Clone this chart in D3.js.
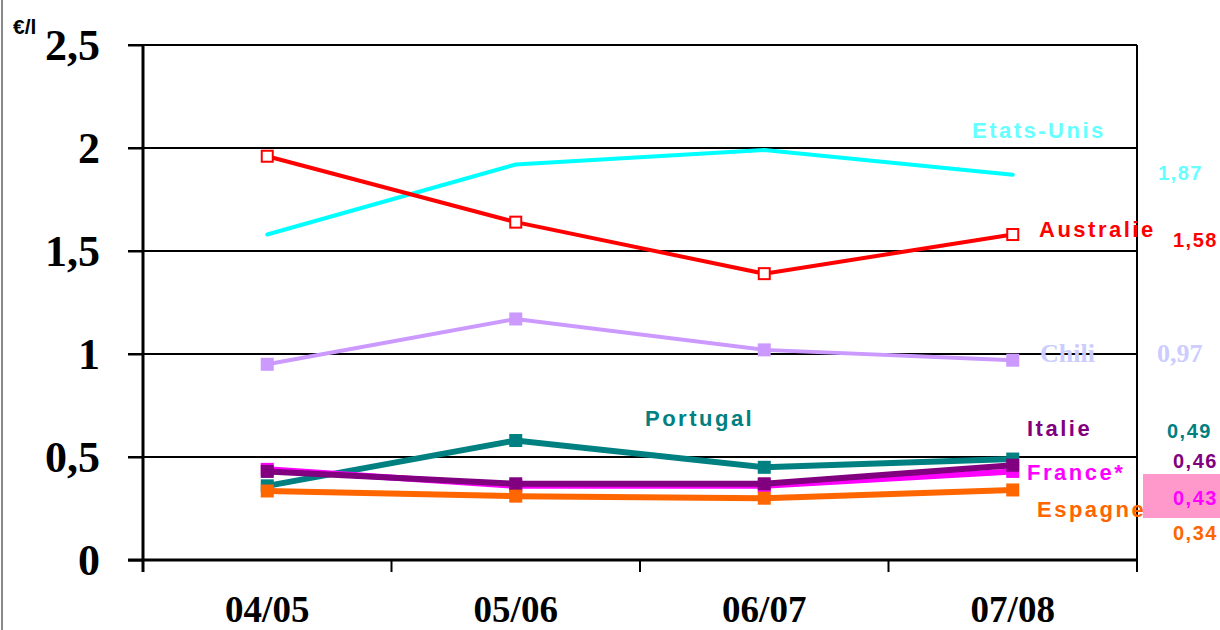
<!DOCTYPE html>
<html>
<head>
<meta charset="utf-8">
<script src="https://cdn.jsdelivr.net/npm/d3@7"></script>
<style>
	body { margin: 0; background: #fff; }
	svg { display: block; }
	.lbl { font-family: 'Liberation Sans', Arial, sans-serif; font-weight: bold; font-size: 22px; letter-spacing: 2.5px; }
	.num { font-family: 'Liberation Sans', Arial, sans-serif; font-weight: bold; font-size: 20px; letter-spacing: 1.5px; }
	.serif { font-family: 'Liberation Serif', 'Times New Roman', serif; font-weight: bold; font-size: 26px; letter-spacing: 0; }
</style>
</head>
<body>
<div id="chart"></div>
<script>
// data
const seasons = ['04/05', '05/06', '06/07', '07/08'];
const etatsUnis = [1.58, 1.92, 1.99, 1.87];
const australie = [1.96, 1.64, 1.39, 1.58];
const chili = [0.95, 1.17, 1.02, 0.97];
const portugal = [0.36, 0.58, 0.45, 0.49];
const france = [0.44, 0.36, 0.36, 0.43];
const italie = [0.43, 0.37, 0.37, 0.46];
const espagne = [0.335, 0.31, 0.30, 0.34];
const yTicks = [0, 0.5, 1, 1.5, 2, 2.5];

// dimension stuff
const width = 1220;
const height = 630;
const plotLeft = 143;
const plotRight = 1137;
const plotTop = 45;
const plotBottom = 560;

const fmt = v => String(v).replace('.', ',');

// series, in drawing order
const series = [
	{ name: 'Etats-Unis', values: etatsUnis, color: '#00FFFF', lw: 4, marker: null, text: '#66FFFF',
		lx: 972, ly: 138, nx: 1158, ny: 180 },
	{ name: 'Australie', values: australie, color: '#FF0000', lw: 4, marker: 'hollow', text: '#FF0000',
		lx: 1039, ly: 237, nx: 1173, ny: 247 },
	{ name: 'Chili', values: chili, color: '#CC99FF', lw: 4, marker: 'filled', text: '#CCCCFF', serif: true,
		lx: 1040, ly: 362, nx: 1157, ny: 362 },
	{ name: 'Portugal', values: portugal, color: '#008080', lw: 6, marker: 'filled', text: '#008080',
		lx: 645, ly: 426, nx: 1167, ny: 438 },
	{ name: 'France*', values: france, color: '#FF00FF', lw: 6, marker: 'filled', text: '#FF00FF',
		lx: 1027, ly: 480, nx: 1173, ny: 505 },
	{ name: 'Italie', values: italie, color: '#800080', lw: 6, marker: 'filled', text: '#800080',
		lx: 1027, ly: 436, nx: 1173, ny: 468 },
	{ name: 'Espagne', values: espagne, color: '#FF6600', lw: 6, marker: 'filled', text: '#FF6600',
		lx: 1037, ly: 517, nx: 1173, ny: 540 }
];

// scales
const scaleX = d3.scaleBand().domain(seasons).range([plotLeft, plotRight]).padding(0);
const scaleY = d3.scaleLinear().domain([0, 2.5]).range([plotBottom, plotTop]);
const cx = d => scaleX(d) + scaleX.bandwidth() / 2;

const $svg = d3.select('#chart').append('svg')
	.attr('width', width)
	.attr('height', height);

// grey frame line on the left edge
$svg.append('line')
	.attr('x1', 2).attr('x2', 2).attr('y1', 0).attr('y2', height)
	.attr('stroke', '#888').attr('stroke-width', 2);

// gridlines
$svg.append('g').selectAll('line')
	.data(yTicks.filter(d => d > 0))
	.join('line')
	.attr('x1', plotLeft - 15).attr('x2', plotRight)
	.attr('y1', d => scaleY(d)).attr('y2', d => scaleY(d))
	.attr('stroke', '#000').attr('stroke-width', 2);

// y axis
const $yAxis = $svg.append('g')
	.attr('transform', `translate(${plotLeft},0)`)
	.call(d3.axisLeft(scaleY).tickValues(yTicks).tickFormat(fmt).tickSize(15).tickPadding(28));
$yAxis.select('.domain').remove();
$yAxis.selectAll('.tick line').attr('stroke', '#000').attr('stroke-width', 2);
$yAxis.selectAll('.tick text')
	.attr('font-family', "'Liberation Serif', 'Times New Roman', serif")
	.attr('font-weight', 'bold')
	.attr('font-size', 44)
	.attr('fill', '#000')
	.attr('dy', '0.34em');

// axis lines
$svg.append('line')
	.attr('x1', plotLeft).attr('x2', plotLeft).attr('y1', plotTop).attr('y2', plotBottom + 12)
	.attr('stroke', '#000').attr('stroke-width', 3);
$svg.append('line')
	.attr('x1', plotRight).attr('x2', plotRight).attr('y1', plotTop).attr('y2', plotBottom + 12)
	.attr('stroke', '#000').attr('stroke-width', 2);

// x axis
const $xAxis = $svg.append('g')
	.attr('transform', `translate(0,${plotBottom})`)
	.call(d3.axisBottom(scaleX).tickSize(0).tickPadding(0));
$xAxis.select('.domain').remove();
$xAxis.selectAll('.tick text')
	.attr('font-family', "'Liberation Serif', 'Times New Roman', serif")
	.attr('font-weight', 'bold')
	.attr('font-size', 37)
	.attr('fill', '#000')
	.attr('dy', null)
	.attr('y', 62);
$svg.append('line')
	.attr('x1', plotLeft - 15).attr('x2', plotRight).attr('y1', plotBottom).attr('y2', plotBottom)
	.attr('stroke', '#000').attr('stroke-width', 3);
$svg.append('g').selectAll('line')
	.data(seasons.concat(['end']))
	.join('line')
	.attr('x1', (d, i) => plotLeft + i * scaleX.step())
	.attr('x2', (d, i) => plotLeft + i * scaleX.step())
	.attr('y1', plotBottom).attr('y2', plotBottom + 12)
	.attr('stroke', '#000').attr('stroke-width', 2);

// unit
$svg.append('text')
	.attr('x', 13).attr('y', 34)
	.attr('font-family', "'Liberation Sans', Arial, sans-serif")
	.attr('font-weight', 'bold')
	.attr('font-size', 21)
	.text('€/l');

// lines and markers
const line = d3.line()
	.x((d, i) => cx(seasons[i]))
	.y(d => scaleY(d));

const $vis = $svg.append('g').attr('class', 'g-vis');
series.forEach(s => {
	const $g = $vis.append('g');
	$g.append('path')
		.attr('d', line(s.values))
		.attr('fill', 'none')
		.attr('stroke', s.color)
		.attr('stroke-width', s.lw)
		.attr('stroke-linecap', 'round')
		.attr('stroke-linejoin', 'miter');
	if (s.marker === 'filled') {
		const m = 13;
		$g.selectAll('rect')
			.data(s.values)
			.join('rect')
			.attr('x', (d, i) => cx(seasons[i]) - m / 2)
			.attr('y', d => scaleY(d) - m / 2)
			.attr('width', m).attr('height', m)
			.attr('fill', s.color);
	} else if (s.marker === 'hollow') {
		const m = 11;
		$g.selectAll('rect')
			.data(s.values)
			.join('rect')
			.attr('x', (d, i) => cx(seasons[i]) - m / 2)
			.attr('y', d => scaleY(d) - m / 2)
			.attr('width', m).attr('height', m)
			.attr('fill', '#fff')
			.attr('stroke', s.color)
			.attr('stroke-width', 2);
	}
});

// series names
series.forEach(s => {
	$svg.append('text')
		.attr('class', s.serif ? 'serif' : 'lbl')
		.attr('x', s.lx).attr('y', s.ly)
		.attr('fill', s.text)
		.text(s.name);
});

// pink box behind the France value
$svg.append('rect')
	.attr('x', 1143).attr('y', 474)
	.attr('width', 77).attr('height', 44)
	.attr('fill', '#FF99CC');

// end values
series.forEach(s => {
	$svg.append('text')
		.attr('class', s.serif ? 'serif' : 'num')
		.attr('x', s.nx).attr('y', s.ny)
		.attr('fill', s.text)
		.text(fmt(s.values[s.values.length - 1]));
});
</script>
</body>
</html>
